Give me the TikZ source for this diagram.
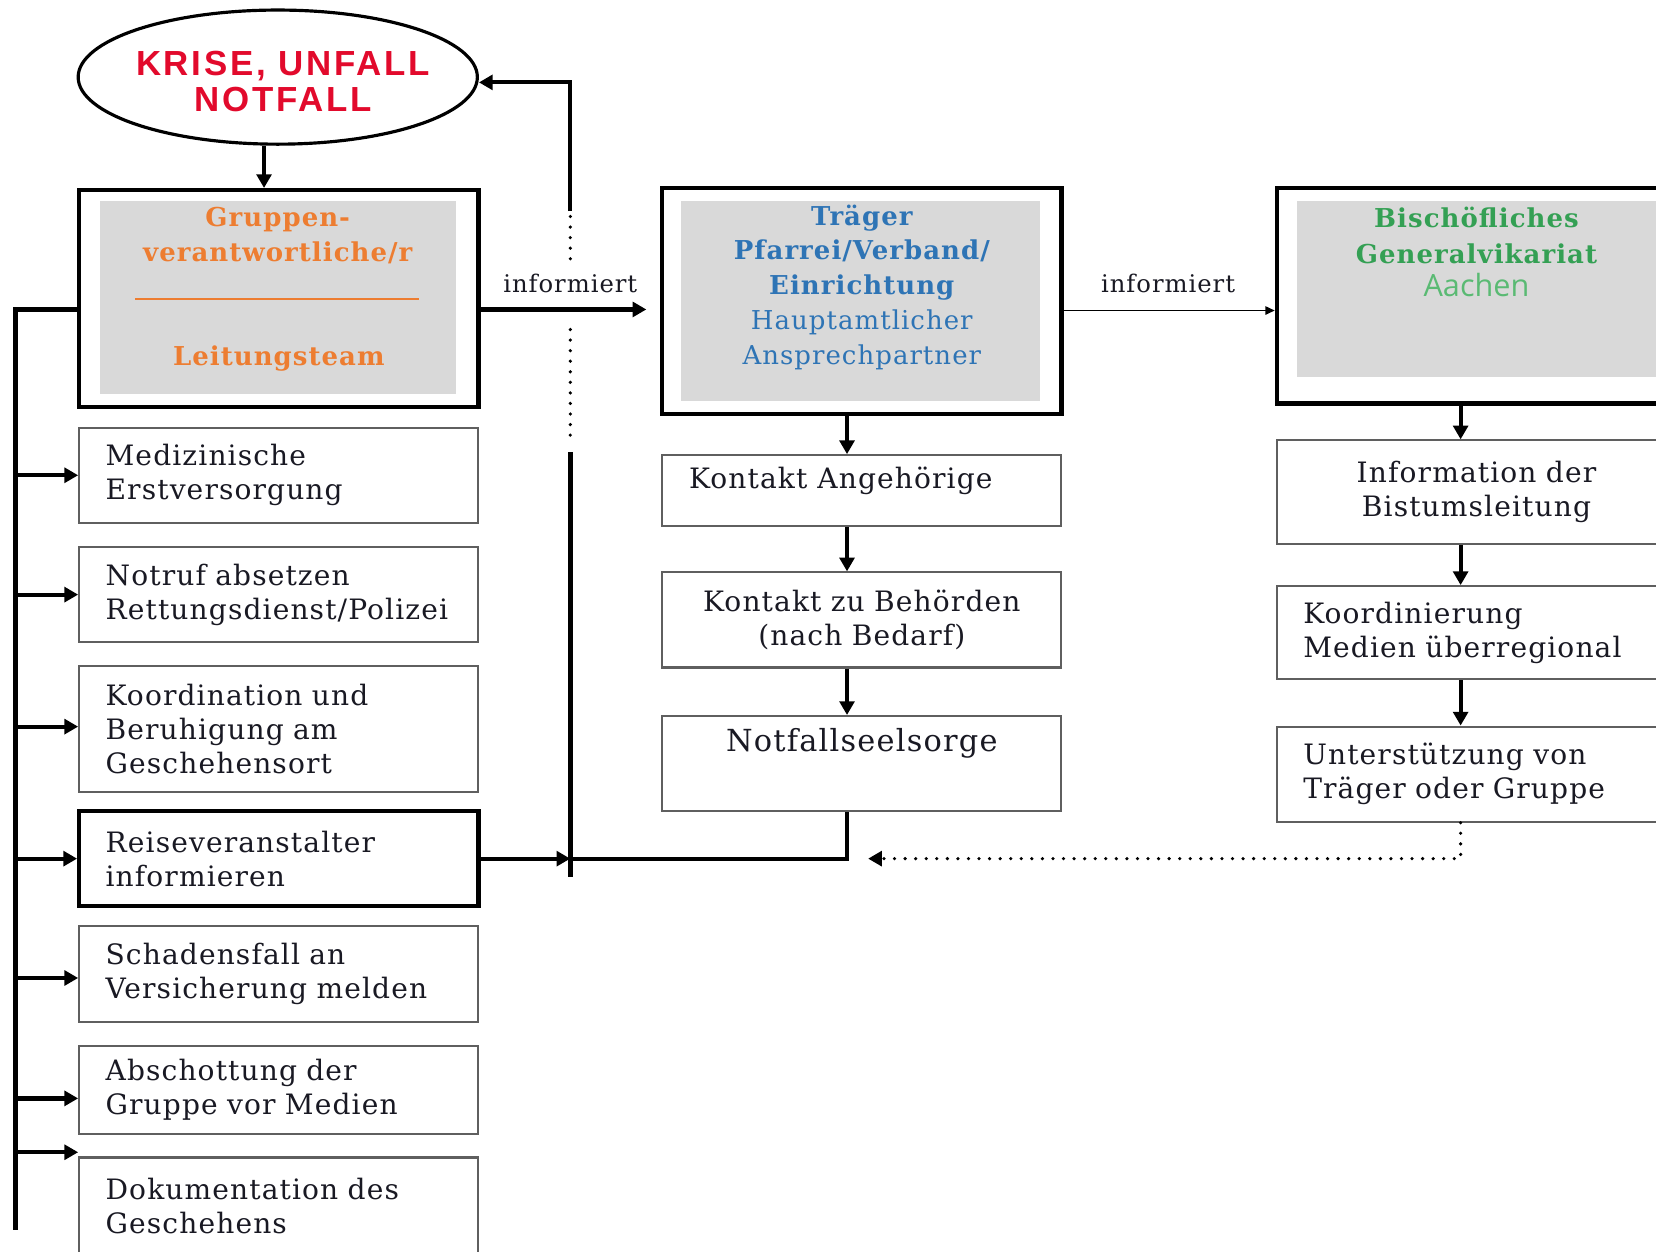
\documentclass[tikz,border=0pt]{standalone}
\usepackage{fontspec}
\setmainfont{DejaVu Serif}[LetterSpace=4]
\newfontfamily\hsans{Liberation Sans}[LetterSpace=8]
\newfontfamily\osans{Open Sans}
\usetikzlibrary{arrows.meta,shapes.geometric,calc}
\definecolor{krred}{RGB}{226,10,44}
\definecolor{orng}{RGB}{237,125,49}
\definecolor{blu}{RGB}{46,116,181}
\definecolor{grn}{RGB}{52,160,84}
\definecolor{grn2}{RGB}{90,186,115}
\definecolor{grayfill}{RGB}{217,217,217}
\definecolor{bord}{RGB}{95,95,95}
\definecolor{txt}{RGB}{25,25,35}
\newcommand\mybody{\fontsize{13.3pt}{16pt}\selectfont}
\tikzset{
  every node/.style={text=txt},
  plainbox/.style={draw=bord, line width=1pt, fill=white, minimum width=189pt,
    inner xsep=12.5pt, inner ysep=0pt, text width=164pt, align=left, font=\mybody},
  cbox/.style={plainbox, align=center},
  thickbox/.style={draw=black, line width=2pt, fill=white, minimum width=189pt, inner sep=0pt},
  graybox/.style={fill=grayfill, draw=none, inner sep=0pt},
  ell/.style={ellipse, draw=black, line width=1.5pt, fill=white, minimum width=189pt,
    minimum height=63.5pt, inner sep=0pt},
  elltext/.style={align=center, text=krred, inner sep=0pt,
    font=\hsans\bfseries\fontsize{16.5pt}{17pt}\selectfont},
  arr/.style={line width=2pt, -{Triangle[length=6.5pt,width=7pt]}},
  ln/.style={line width=2pt},
  busl/.style={line width=2.4pt},
  thinarr/.style={line width=0.8pt, -{Triangle[length=4.5pt,width=4pt]}},
  dotl/.style={line width=1.7pt, line cap=round, dash pattern=on 0pt off 5pt},
  lbl/.style={font=\fontsize{11.5pt}{14pt}\selectfont, inner sep=1pt},
}
\begin{document}
\begin{tikzpicture}[x=0.5pt,y=-0.5pt]
\useasboundingbox (0,0) rectangle (1568,1185);
\fill[white] (0,0) rectangle (1568,1185);
\clip (0,0) rectangle (1568,1185);

% coordinates
\coordinate (bus) at (15,293);
\coordinate (busend) at (15,1165);
\coordinate (ax) at (250,0);
\coordinate (mx) at (802,0);
\coordinate (rx) at (1383,0);
\coordinate (fbtop) at (540,78);
\coordinate (fbs) at (540,200);
\coordinate (d1a) at (540,205);
\coordinate (d1b) at (540,245);
\coordinate (d2a) at (540,312);
\coordinate (d2b) at (540,420);
\coordinate (sp1) at (540,428);
\coordinate (sp2) at (540,830);
\coordinate (inf) at (612,293);
\coordinate (dend) at (822,813);

% ellipse
\node[ell] (kr) at (263,73) {};
\node[elltext] (krt) at (268,77) {KRISE, UNFALL\\NOTFALL};

% box 1
\node[thickbox, minimum height=102.5pt] (g) at (264,282.5) {};
\node[graybox, minimum width=168.5pt, minimum height=91.5pt] (gi) at (263.5,281.5) {};
\node[font=\fontsize{12.3pt}{16.5pt}\selectfont\bfseries, text=orng, align=center, inner sep=0pt] (gt1) at (263,223) {Gruppen-\\verantwortliche/r};
\draw[orng, line width=1pt] (128,283) -- (397,283);
\node[font=\fontsize{12.3pt}{16pt}\selectfont\bfseries, text=orng, inner sep=0pt] (gt2) at (264,339) {Leitungsteam};

% box 2
\node[thickbox, minimum height=107pt] (tr) at (816,285) {};
\node[graybox, minimum width=170pt, minimum height=95pt] (tri) at (815,285) {};
\node[font=\fontsize{12.3pt}{16.5pt}\selectfont, text=blu, align=center, inner sep=0pt] (trt) at (816,272)
  {{\bfseries Träger}\\{\bfseries Pfarrei/Verband/}\\{\bfseries Einrichtung}\\Hauptamtlicher\\Ansprechpartner};

% box 3
\node[thickbox, minimum height=102pt] (bg) at (1398,280) {};
\node[graybox, minimum width=170pt, minimum height=83.5pt] (bgi) at (1398,273.5) {};
\node[font=\fontsize{12.3pt}{17pt}\selectfont\bfseries, text=grn, align=center, inner sep=0pt] (bgt) at (1398,223)
  {Bischöfliches\\Generalvikariat};
\node[font=\osans\fontsize{14.5pt}{17pt}\selectfont, text=grn2, inner sep=0pt] (aa) at (1398,270) {Aachen};

% left column
\node[plainbox, minimum height=45pt] (med) at (264,450) {Medizinische\\Erstversorgung};
\node[plainbox, minimum height=45pt] (notr) at (264,563) {Notruf absetzen\\Rettungsdienst/Polizei};
\node[plainbox, minimum height=59.5pt] (ko) at (264,690.5) {Koordination und\\Beruhigung am\\Geschehensort};
\node[plainbox, draw=black, line width=2pt, minimum height=45pt] (re) at (264,813) {Reiseveranstalter\\informieren};
\node[plainbox, minimum height=45.5pt] (sc) at (264,922.5) {Schadensfall an\\Versicherung melden};
\node[plainbox, minimum height=42pt] (ab) at (264,1032) {Abschottung der\\Gruppe vor Medien};
\node[plainbox, minimum height=46pt] (doku) at (264,1142) {Dokumentation des\\Geschehens};

% middle column
\node[plainbox, minimum height=33.5pt] (ka) at (816,464.5) {};
\node[font=\mybody, anchor=west, inner sep=0pt] (kat) at (652,455) {Kontakt Angehörige};
\node[cbox, minimum height=45pt] (kb) at (816,587) {Kontakt zu Behörden\\(nach Bedarf)};
\node[plainbox, minimum height=45pt] (nfs) at (816,723) {};
\node[font=\fontsize{14.4pt}{17pt}\selectfont, inner sep=0pt] (nfst) at (816,704) {Notfallseelsorge};

% right column
\node[cbox, minimum height=49pt] (info) at (1398,466) {Information der\\Bistumsleitung};
\node[plainbox, minimum height=44pt] (kom) at (1398,599) {Koordinierung\\Medien überregional};
\node[plainbox, minimum height=45pt] (unt) at (1398,733) {Unterstützung von\\Träger oder Gruppe};

% labels
\node[lbl] (l1) at (540,268) {informiert};
\node[lbl] (l2) at (1106,268) {informiert};

% connectors
\draw[arr] (kr.south -| ax) -- (g.north -| ax);
\draw[arr] (fbs) -- (fbtop) -- (fbtop -| kr.east);
\draw[dotl] (d1a) -- (d1b);
\draw[dotl] (d2a) -- (d2b);
\draw[line width=2.4pt] (sp1) -- (sp2);
\draw[arr] (g.east |- inf) -- (inf);
\draw[thinarr] (tr.east |- 0,294) -- (bg.west |- 0,294);

\draw[busl] (g.west |- bus) -- (bus) -- (busend);
\draw[arr] (bus |- med.west) -- (med.west);
\draw[arr] (bus |- notr.west) -- (notr.west);
\draw[arr] ($(bus |- ko.west)+(0,-2.5)$) -- ($(ko.west)+(0,-2.5)$);
\draw[arr] (bus |- re.west) -- (re.west);
\draw[arr] ($(bus |- sc.west)+(0,3.5)$) -- ($(sc.west)+(0,3.5)$);
\draw[arr] ($(bus |- ab.west)+(0,8)$) -- ($(ab.west)+(0,8)$);
\draw[arr] ($(bus |- doku.north west)+(0,-4)$) -- ($(doku.north west)+(0,-4)$);

\draw[arr] (re.east) -- (re.east -| sp1);
\draw[ln] (nfs.south -| mx) |- (re.east -| sp1);

\draw[arr] (tr.south -| mx) -- (ka.north -| mx);
\draw[arr] (ka.south -| mx) -- (kb.north -| mx);
\draw[arr] (kb.south -| mx) -- (nfs.north -| mx);

\draw[arr] (bg.south -| rx) -- (info.north -| rx);
\draw[arr] (info.south -| rx) -- (kom.north -| rx);
\draw[arr] (kom.south -| rx) -- (unt.north -| rx);

\draw[dotl] (unt.south -| rx) |- (dend);
\draw[-{Triangle[length=6.5pt,width=7pt]}, line width=1.6pt] ($(dend)+(6,0)$) -- (dend);
\end{tikzpicture}
\end{document}
